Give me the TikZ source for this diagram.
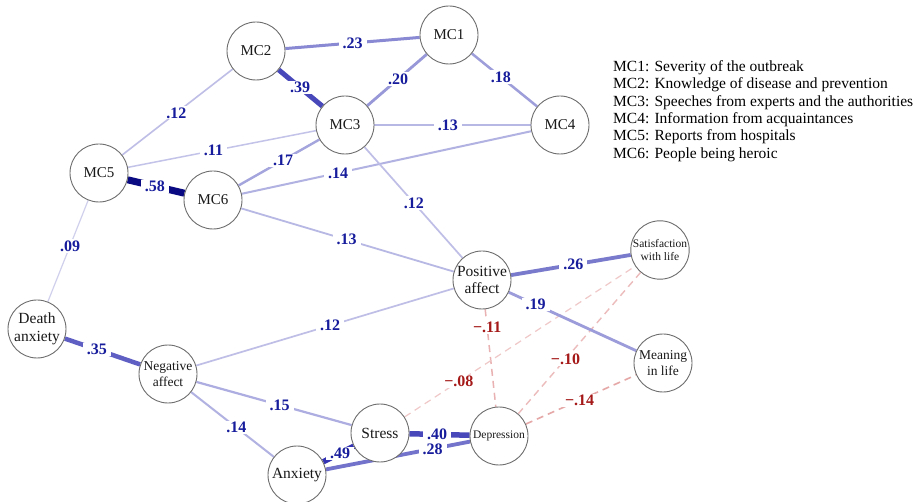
\documentclass[tikz,border=0pt]{standalone}
\usepackage{fontspec}
\setmainfont{Liberation Serif}
\usetikzlibrary{backgrounds}
\definecolor{eb}{RGB}{40,40,175}
\definecolor{navyE}{RGB}{10,10,130}
\definecolor{er}{RGB}{200,60,60}
\definecolor{labblue}{RGB}{22,28,155}
\definecolor{labred}{RGB}{165,25,25}
\definecolor{ring}{RGB}{110,110,110}
\begin{document}
\begin{tikzpicture}[x=1pt,y=-1pt,
  vnode/.style={circle, draw=ring, line width=0.9pt, fill=white, minimum size=58pt, inner sep=0pt, align=center, text=black!90},
  fbig/.style={font=\fontsize{15.5}{17.7}\selectfont},
  fmc/.style={font=\fontsize{15}{17}\selectfont},
  fmid/.style={font=\fontsize{13.5}{16.5}\selectfont},
  fsmall/.style={font=\fontsize{11.5}{13.3}\selectfont},
  lab/.style={fill=white, inner xsep=4pt, inner ysep=1.2pt, text=labblue, font=\fontsize{16}{16}\selectfont\bfseries},
  nlab/.style={lab, text=labred},
  pe/.style 2 args={draw=eb!#2!white, line width=#1pt},
  ne/.style 2 args={draw=er!#2!white, line width=#1pt, dash pattern=on 7pt off 5pt},
]
\useasboundingbox (0,0) rectangle (921,502);

\node[vnode,fmc] (mc2) at (256,51) {MC2};
\node[vnode,fmc] (mc1) at (449,35) {MC1};
\node[vnode,fmc] (mc3) at (345,125) {MC3};
\node[vnode,fmc] (mc4) at (560,125) {MC4};
\node[vnode,fmc] (mc5) at (99,173) {MC5};
\node[vnode,fmc] (mc6) at (213,200) {MC6};
\node[vnode,fbig] (pa) at (482,280) {Positive\\affect};
\node[vnode,fsmall] (sa) at (660,250) {Satisfaction\\with life};
\node[vnode,fmid] (me) at (663,363) {Meaning\\in life};
\node[vnode,fbig] (da) at (37,329) {Death\\anxiety};
\node[vnode,fmid] (na) at (168,374) {Negative\\affect};
\node[vnode,fbig] (st) at (380,433) {Stress};
\node[vnode,fsmall] (de) at (499,436) {Depression};
\node[vnode,fbig] (an) at (297,475) {Anxiety};

\node[anchor=north west, inner sep=0pt, align=left, font=\fontsize{15.5}{17.3}\selectfont] (legend) at (613,60.5)
 {MC1: Severity of the outbreak\\
  MC2: Knowledge of disease and prevention\\
  MC3: Speeches from experts and the authorities\\
  MC4: Information from acquaintances\\
  MC5: Reports from hospitals\\
  MC6: People being heroic};

\begin{scope}[on background layer]
\fill[white] (0,0) rectangle (921,502);
\draw[ne={1.5}{40}] (pa) -- node[nlab,pos=.19]{−.11} (de);
\draw[ne={1.2}{28}] (st) -- node[nlab,pos=.235]{−.08} (sa);
\draw[ne={1.4}{35}] (de) -- node[nlab,pos=.386]{−.10} (sa);
\draw[ne={1.6}{45}] (de) -- node[nlab,pos=.487]{−.14} (me);
\draw[pe={3}{55}] (mc2) -- node[lab,pos=.50]{.23} (mc1);
\draw[pe={5}{85}] (mc2) -- node[lab,pos=.49]{.39} (mc3);
\draw[pe={2.8}{48}] (mc1) -- node[lab,pos=.48]{.20} (mc3);
\draw[pe={2.5}{45}] (mc1) -- node[lab,pos=.445]{.18} (mc4);
\draw[pe={1.6}{30}] (mc5) -- node[lab,pos=.49]{.12} (mc2);
\draw[pe={1.5}{28}] (mc5) -- node[lab,pos=.455]{.11} (mc3);
\draw[pe={1.8}{33}] (mc3) -- node[lab,pos=.47]{.13} (mc4);
\draw[pe={2.4}{42}] (mc6) -- node[lab,pos=.55]{.17} (mc3);
\draw[line width=7pt, draw=navyE] (mc5) -- node[lab,pos=.48]{.58} (mc6);
\draw[pe={2}{36}] (mc6) -- node[lab,pos=.333]{.14} (mc4);
\draw[pe={1.7}{30}] (mc3) -- node[lab,pos=.505]{.12} (pa);
\draw[pe={1.8}{33}] (mc6) -- node[lab,pos=.496]{.13} (pa);
\draw[pe={1.2}{22}] (mc5) -- node[lab,pos=.45]{.09} (da);
\draw[pe={4.5}{75}] (da) -- node[lab,pos=.425]{.35} (na);
\draw[pe={1.7}{30}] (na) -- node[lab,pos=.52]{.12} (pa);
\draw[pe={2.2}{38}] (na) -- node[lab,pos=.537]{.15} (st);
\draw[pe={2}{36}] (na) -- node[lab,pos=.548]{.14} (an);
\draw[pe={5.5}{95}] (an) -- node[lab,pos=.55]{.49} (st);
\draw[pe={5.5}{85}] (st) -- node[lab,pos=.46]{.40} (de);
\draw[pe={3.8}{65}] (an) -- node[lab,pos=.74]{.28} (de);
\draw[pe={3.8}{62}] (pa) -- node[lab,pos=.52]{.26} (sa);
\draw[pe={2.8}{46}] (pa) -- node[lab,pos=.21]{.19} (me);
\end{scope}
\end{tikzpicture}
\end{document}
